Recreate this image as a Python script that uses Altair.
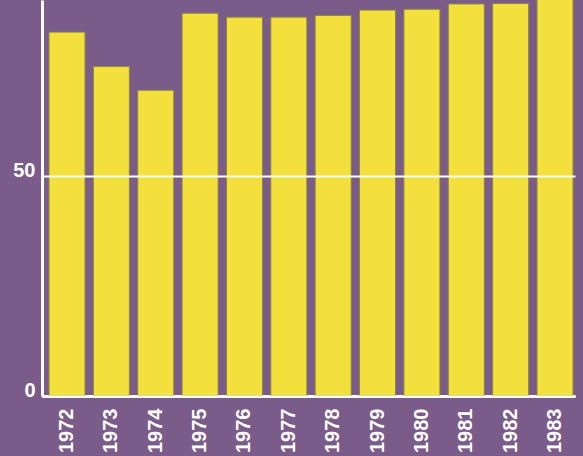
import altair as alt
import pandas as pd

years = ["1972", "1973", "1974", "1975", "1976", "1977",
         "1978", "1979", "1980", "1981", "1982", "1983"]
values = [82.7, 74.9, 69.5, 87.0, 86.1, 86.1, 86.5, 87.7, 87.9, 89.1, 89.2, 91.0]
y_ticks = [0, 50]

df = pd.DataFrame({"year": years, "value": values})

PURPLE = "#7a5b8a"
YELLOW = "#f3e03c"
FONT = "Liberation Sans"

chart = alt.Chart(df).mark_bar(
    clip=True, color=YELLOW, stroke="#8a873e", strokeWidth=1
).encode(
    x=alt.X("year:N", sort=years,
            scale=alt.Scale(paddingInner=0.188, paddingOuter=0.101, align=0.78),
            axis=alt.Axis(title=None, labelAngle=270, labelAlign="right",
                          labelBaseline="middle", labelPadding=12,
                          labelFont=FONT, labelFontWeight="bold", labelFontSize=20,
                          labelColor="white", ticks=False, domain=True,
                          domainColor="white", domainWidth=3, grid=False)),
    y=alt.Y("value:Q", scale=alt.Scale(domain=[0, 90], nice=False, zero=True),
            axis=alt.Axis(title=None, values=y_ticks, grid=True, gridColor="white",
                          gridWidth=2, gridOpacity=1, zindex=1, ticks=False,
                          domain=True, domainColor="white", domainWidth=3,
                          labelFont=FONT, labelFontWeight="bold", labelFontSize=20,
                          labelColor="white", labelBaseline="alphabetic",
                          labelPadding=7)),
).properties(
    width=533, height=396,
    autosize=alt.AutoSizeParams(type="none"),
    padding={"left": 42, "top": 0, "right": 8, "bottom": 60},
    background=PURPLE,
).configure_view(stroke=None)

chart.save("out.html", embed_options={"renderer": "svg", "actions": False})
